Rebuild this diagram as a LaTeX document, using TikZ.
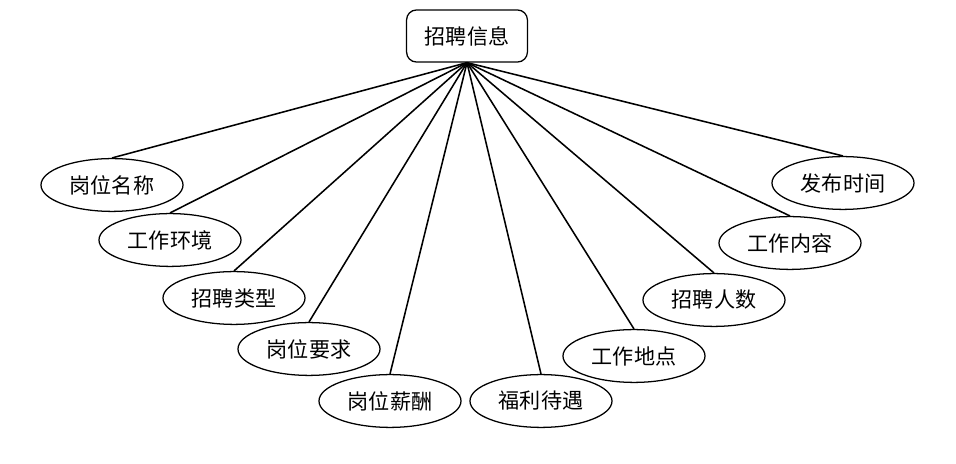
\documentclass[tikz,border=0pt]{standalone}
\usepackage{fontspec}
\setmainfont{Noto Sans CJK SC}
\usepackage{tikz}
\usetikzlibrary{shapes.geometric}

\begin{document}
\begin{tikzpicture}[x=0.025cm,y=-0.025cm,
		attr/.style={draw,ellipse,line width=0.9pt,minimum width=3.55cm,minimum height=1.32cm,inner sep=0pt,font=\fontsize{15}{18}\selectfont},
		top/.style={draw,rounded corners=7pt,line width=0.9pt,minimum width=3.02cm,minimum height=1.3cm,inner sep=0pt,font=\fontsize{15}{18}\selectfont}]
			\useasboundingbox (0,0) rectangle (956,464);
			\node[top] (Z) at (467,36) {招聘信息};
			\node[attr] (A) at (112,185) {岗位名称};
			\node[attr] (B) at (170,240) {工作环境};
			\node[attr] (C) at (234,298) {招聘类型};
			\node[attr] (D) at (309,349) {岗位要求};
			\node[attr] (E) at (390,401) {岗位薪酬};
			\node[attr] (F) at (541,401) {福利待遇};
			\node[attr] (G) at (634,356) {工作地点};
			\node[attr] (H) at (714,300) {招聘人数};
			\node[attr] (I) at (790,243) {工作内容};
			\node[attr] (J) at (843,183) {发布时间};
			\foreach \n in {A,B,C,D,E,F,G,H,I,J}
				\draw[line width=1.1pt](Z.south)--(\n.north);
		\end{tikzpicture}
\end{document}
